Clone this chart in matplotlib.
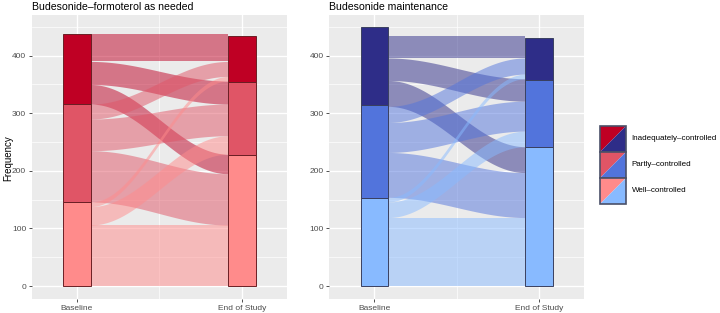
import numpy as np
import matplotlib.pyplot as plt
from matplotlib.patches import Rectangle, Polygon

plt.rcParams['font.family'] = ['Liberation Sans', 'DejaVu Sans']

# categories, top of the stack first
levels = ["Inadequately\u2013controlled", "Partly\u2013controlled", "Well\u2013controlled"]
times = ["Baseline", "End of Study"]
titles = ["Budesonide\u2013formoterol as needed", "Budesonide maintenance"]

# flows: rows = baseline level, cols = end-of-study level (Inad, Partly, Well)
flows_bf = [[48, 40, 34],
            [26, 55, 89],
            [8, 32, 106]]
flows_bm = [[39, 39, 45],
            [28, 52, 78],
            [8, 27, 119]]

# stratum heights (Inad, Partly, Well)
base_bf = [122, 170, 146]
end_bf = [81, 126, 228]
base_bm = [134, 162, 153]
end_bm = [74, 116, 241]

red_cols = ['#BF0024', '#E05566', '#FF8B8B']
blue_cols = ['#2E2D88', '#5274DC', '#88BAFF']

bg = '#EBEBEB'
w = 1 / 6   # stratum width


def smooth(t):
    return (1 - np.cos(np.pi * t)) / 2


def draw_panel(ax, flows, base, end, cols, edge, title):
    ax.set_facecolor(bg)
    ax.set_xlim(0.727, 2.273)
    ax.set_ylim(-22.4, 470.4)
    ax.set_yticks([0, 100, 200, 300, 400])
    ax.set_yticks([50, 150, 250, 350, 450], minor=True)
    ax.set_xticks([1, 2])
    ax.set_xticklabels(times)
    ax.set_xticks([1.5], minor=True)
    ax.grid(which='major', color='white', lw=1.0)
    ax.grid(which='minor', color='white', lw=0.5)
    ax.set_axisbelow(True)
    for s in ax.spines.values():
        s.set_visible(False)
    ax.tick_params(which='major', length=2.5, width=0.6, color='#333333',
                   labelsize=6, labelcolor='#4D4D4D', pad=1.5)
    ax.tick_params(which='minor', length=0)
    ax.set_title(title, loc='left', fontsize=7.6, color='black', pad=4)

    f = np.array(flows, dtype=float)
    n = len(levels)
    # positions at baseline side: stack from bottom, Well first
    left = {}
    y = 0.0
    for i in reversed(range(n)):
        for j in reversed(range(n)):
            left[(i, j)] = (y, y + f[i, j])
            y += f[i, j]
    right = {}
    y = 0.0
    for j in reversed(range(n)):
        for i in reversed(range(n)):
            right[(i, j)] = (y, y + f[i, j])
            y += f[i, j]

    x0, x1 = 1 + w / 2, 2 - w / 2
    t = np.linspace(0, 1, 80)
    xs = x0 + (x1 - x0) * t
    for i in range(n):
        for j in range(n):
            if f[i, j] <= 0:
                continue
            lo = left[(i, j)][0] + (right[(i, j)][0] - left[(i, j)][0]) * smooth(t)
            hi = left[(i, j)][1] + (right[(i, j)][1] - left[(i, j)][1]) * smooth(t)
            ax.fill_between(xs, lo, hi, color=cols[i], alpha=0.5, lw=0, zorder=2)

    for xc, counts in [(1, base), (2, end)]:
        y = 0.0
        for k in reversed(range(n)):
            ax.add_patch(Rectangle((xc - w / 2, y), w, counts[k], facecolor=cols[k],
                                   edgecolor=edge, lw=0.7, zorder=3))
            y += counts[k]


fig = plt.figure(figsize=(7.2, 3.13), dpi=100)
ax1 = fig.add_axes([0.044, 0.0447, 0.3546, 0.907])
ax2 = fig.add_axes([0.4574, 0.0447, 0.3537, 0.907])

draw_panel(ax1, flows_bf, base_bf, end_bf, red_cols, '#6B1F24', titles[0])
draw_panel(ax2, flows_bm, base_bm, end_bm, blue_cols, '#3A4060', titles[1])
fig.text(8 / 720, 0.494, "Frequency", fontsize=7, rotation=90, ha='center', va='center')

# legend with split keys
key_w, key_h = 25.5 / 720, 26 / 313
kx = 600 / 720
for k, lab in enumerate(levels):
    ky = 1 - (126 + 26 * (k + 1)) / 313
    kax = fig.add_axes([kx, ky, key_w, key_h])
    kax.set_xlim(0, 1)
    kax.set_ylim(0, 1)
    kax.axis('off')
    kax.add_patch(Polygon([(0, 0), (0, 1), (1, 1)], closed=True, facecolor=red_cols[k], lw=0))
    kax.add_patch(Polygon([(0, 0), (1, 0), (1, 1)], closed=True, facecolor=blue_cols[k], lw=0))
    kax.add_patch(Rectangle((0, 0), 1, 1, fill=False, edgecolor='#4A5068', lw=1.2, clip_on=False))
    fig.text(kx + key_w + 6 / 720, ky + key_h / 2, lab, fontsize=5.8, va='center', ha='left')

fig.savefig("out.png", dpi=100)
